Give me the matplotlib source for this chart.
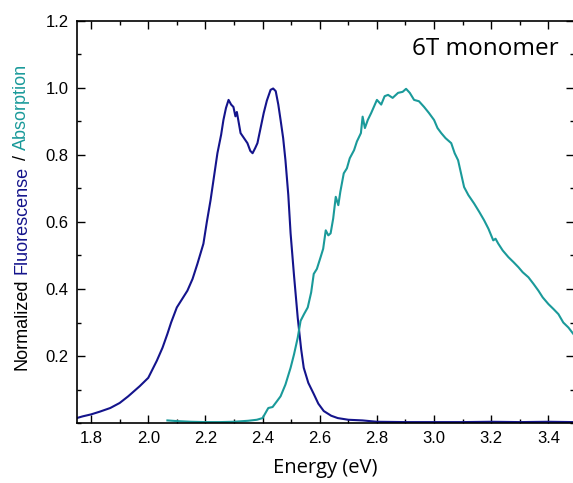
import matplotlib
matplotlib.use("Agg")
import matplotlib.pyplot as plt
from matplotlib.ticker import MultipleLocator

# fluorescence (navy)
fl_energy = [1.75, 1.77, 1.80, 1.83, 1.867, 1.90, 1.93, 1.97, 2.00, 2.03, 2.05,
             2.067, 2.08, 2.10, 2.12, 2.137, 2.155, 2.172, 2.193, 2.205, 2.218,
             2.23, 2.242, 2.255, 2.263, 2.272, 2.281, 2.29, 2.298, 2.305, 2.31,
             2.323, 2.335, 2.347, 2.357, 2.365, 2.374, 2.382, 2.393, 2.404,
             2.415, 2.428, 2.437, 2.446, 2.455, 2.463, 2.472, 2.48, 2.49, 2.498,
             2.51, 2.523, 2.535, 2.544, 2.56, 2.579, 2.595, 2.614, 2.64, 2.663,
             2.70, 2.75, 2.80, 2.90, 3.00, 3.10, 3.20, 3.30, 3.40, 3.49]
fl_signal = [0.015, 0.020, 0.026, 0.034, 0.045, 0.060, 0.080, 0.110, 0.135, 0.186,
             0.225, 0.266, 0.300, 0.345, 0.372, 0.395, 0.430, 0.475, 0.535, 0.600,
             0.665, 0.735, 0.805, 0.860, 0.904, 0.940, 0.964, 0.950, 0.943, 0.915,
             0.928, 0.865, 0.850, 0.835, 0.812, 0.805, 0.820, 0.835, 0.880, 0.925,
             0.962, 0.994, 0.998, 0.990, 0.950, 0.904, 0.850, 0.784, 0.680, 0.566,
             0.440, 0.314, 0.220, 0.165, 0.120, 0.087, 0.058, 0.036, 0.022, 0.015,
             0.010, 0.008, 0.004, 0.003, 0.003, 0.003, 0.004, 0.003, 0.004, 0.003]

# absorption (teal)
ab_energy = [2.067, 2.10, 2.15, 2.20, 2.25, 2.30, 2.35, 2.38, 2.40, 2.41, 2.42,
             2.435, 2.45, 2.463, 2.48, 2.498, 2.51, 2.523, 2.533, 2.545, 2.558,
             2.57, 2.579, 2.59, 2.603, 2.612, 2.621, 2.63, 2.638, 2.647, 2.656,
             2.665, 2.672, 2.684, 2.695, 2.705, 2.72, 2.73, 2.744, 2.75, 2.758,
             2.768, 2.78, 2.80, 2.815, 2.827, 2.839, 2.855, 2.874, 2.89, 2.902,
             2.915, 2.93, 2.947, 2.965, 2.982, 3.00, 3.012, 3.025, 3.04, 3.06,
             3.072, 3.084, 3.105, 3.12, 3.14, 3.158, 3.175, 3.19, 3.207, 3.215,
             3.224, 3.24, 3.26, 3.278, 3.295, 3.31, 3.33, 3.348, 3.365, 3.38,
             3.40, 3.418, 3.435, 3.452, 3.47, 3.488]
ab_signal = [0.008, 0.006, 0.004, 0.003, 0.003, 0.004, 0.007, 0.010, 0.015, 0.030,
             0.045, 0.048, 0.065, 0.080, 0.115, 0.165, 0.205, 0.255, 0.305, 0.325,
             0.345, 0.390, 0.445, 0.460, 0.495, 0.520, 0.575, 0.560, 0.566, 0.610,
             0.675, 0.650, 0.690, 0.745, 0.760, 0.790, 0.814, 0.840, 0.865, 0.914,
             0.880, 0.904, 0.925, 0.964, 0.950, 0.975, 0.979, 0.970, 0.985, 0.988,
             0.997, 0.985, 0.964, 0.960, 0.943, 0.925, 0.904, 0.880, 0.865, 0.850,
             0.835, 0.805, 0.784, 0.704, 0.680, 0.655, 0.630, 0.605, 0.580, 0.545,
             0.550, 0.536, 0.515, 0.495, 0.480, 0.465, 0.450, 0.435, 0.415, 0.395,
             0.375, 0.355, 0.340, 0.325, 0.300, 0.285, 0.265]

navy = "#14148c"
teal = "#1a9a9a"

fig = plt.figure(figsize=(5.73, 4.83), dpi=100)
ax = fig.add_axes([0.134, 0.124, 0.868, 0.833])

ax.plot(fl_energy, fl_signal, color=navy, lw=1.5)
ax.plot(ab_energy, ab_signal, color=teal, lw=1.5)

ax.set_xlim(1.75, 3.49)
ax.set_ylim(0, 1.2)
ax.xaxis.set_major_locator(MultipleLocator(0.2))
ax.xaxis.set_minor_locator(MultipleLocator(0.1))
ax.set_yticks([0.2, 0.4, 0.6, 0.8, 1.0, 1.2])
ax.yaxis.set_minor_locator(MultipleLocator(0.1))
ax.tick_params(which="both", direction="in", top=True, right=True,
               labelsize=12, width=1)
ax.tick_params(which="major", length=6, pad=6)
ax.tick_params(which="minor", length=3)
for lab in ax.get_xticklabels() + ax.get_yticklabels():
    lab.set_family("Liberation Sans")
for sp in ax.spines.values():
    sp.set_linewidth(1.2)

ax.set_xlabel("Energy (eV)", family="Open Sans", fontsize=14.5, labelpad=8)
ax.text(0.968, 0.93, "6T monomer", transform=ax.transAxes, ha="right",
        va="center", family="Open Sans", fontsize=17.5)

# multicolour y label built from pieces stacked bottom to top
pieces = [("Normalized", "black"), ("Fluorescense", navy),
          ("/", "black"), ("Absorption", teal)]
fig.canvas.draw()
renderer = fig.canvas.get_renderer()
size = 13
gap = 0.3 * size / 72 * fig.dpi / fig.bbox.height
texts, heights = [], []
for s, c in pieces:
    t = fig.text(0, 0, s, rotation=90, color=c, family="Liberation Sans",
                 fontsize=size, ha="center", va="bottom")
    h = t.get_window_extent(renderer).height / fig.bbox.height
    texts.append(t)
    heights.append(h)
total = sum(heights) + gap * (len(pieces) - 1)
y0 = 1 - 217 / 483 - total / 2
for t, h in zip(texts, heights):
    t.set_position((0.038, y0))
    y0 += h + gap

fig.savefig("out.png", dpi=100)
